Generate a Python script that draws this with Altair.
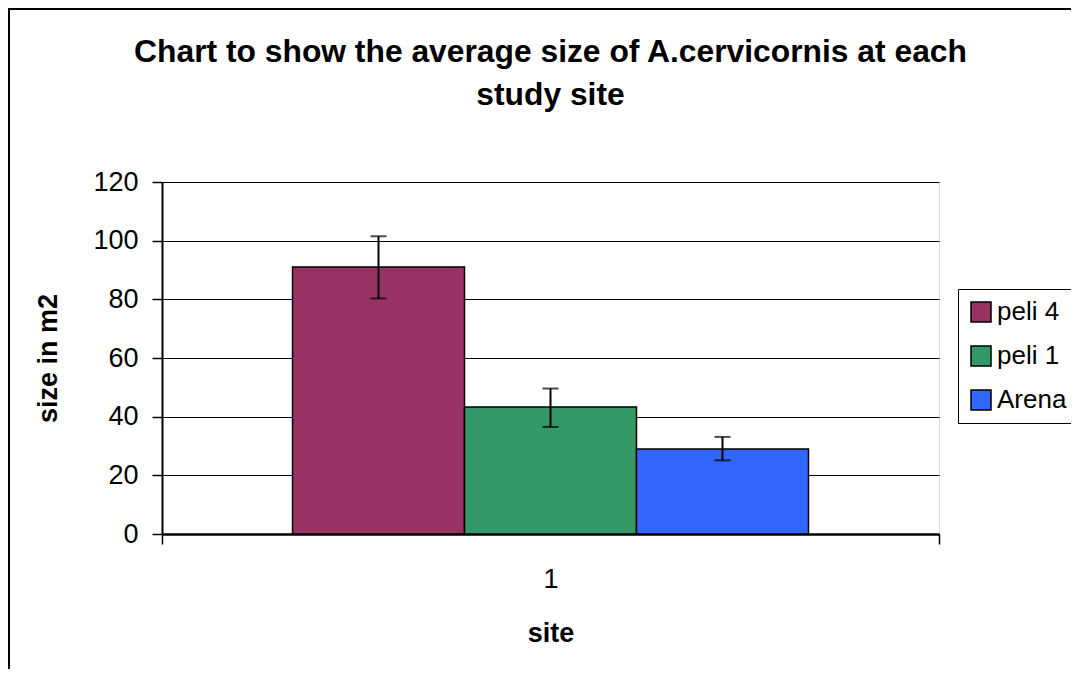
import altair as alt
import pandas as pd

sites = ["1"]
series = ["peli 4", "peli 1", "Arena"]
means = [91.0, 43.3, 29.0]
lower = [80.3, 36.5, 25.1]
upper = [101.5, 49.6, 33.1]
colors = ["#993366", "#339966", "#3366FF"]
y_ticks = [0, 20, 40, 60, 80, 100, 120]
title_text = "Chart to show the average size of A.cervicornis at each\nstudy site"

df = pd.DataFrame({
    "site": sites * len(series),
    "series": series,
    "mean": means,
    "lower": lower,
    "upper": upper,
})

FONT = "Liberation Sans"

x_enc = alt.X("site:N", title="site",
              scale=alt.Scale(paddingInner=0, paddingOuter=0),
              axis=alt.Axis(labelAngle=0, tickBand="extent", tickSize=10, tickColor="black",
                            tickWidth=1.5, domainColor="black", domainWidth=2.5,
                            labelFontSize=27, labelFont=FONT, labelColor="black", labelPadding=22,
                            titleFontSize=27, titleFont=FONT, titleFontWeight="bold", titleColor="black",
                            titleX=388.5, titleY=99, titleBaseline="middle", titleAlign="center",
                            grid=False))
xoff_enc = alt.XOffset("series:N", sort=series,
                       scale=alt.Scale(paddingInner=0, paddingOuter=0.759))
y_scale = alt.Scale(domain=[0, 120], nice=False)

bars = alt.Chart(df).mark_bar(stroke="black", strokeWidth=1.5).encode(
    x=x_enc,
    xOffset=xoff_enc,
    y=alt.Y("mean:Q", title="size in m2", scale=y_scale,
            axis=alt.Axis(values=y_ticks, tickSize=10, tickColor="black", tickWidth=1.5,
                          domainColor="black", domainWidth=2, gridColor="black", gridWidth=1.2,
                          labelFontSize=27, labelFont=FONT, labelColor="black", labelPadding=14,
                          titleFontSize=27, titleFont=FONT, titleFontWeight="bold", titleColor="black",
                          titleX=-114, titleY=176, titleBaseline="middle", titleAlign="center")),
    color=alt.Color("series:N", sort=series,
                    scale=alt.Scale(domain=series, range=colors),
                    legend=alt.Legend(title=None, orient="none", legendX=796, legendY=107,
                                      strokeColor="black", fillColor="white", padding=10,
                                      symbolType="square", symbolSize=400,
                                      symbolStrokeColor="black", symbolStrokeWidth=1.5,
                                      labelFontSize=26, labelFont=FONT, labelColor="black",
                                      labelOffset=3, rowPadding=18)),
)

err = alt.Chart(df).mark_rule(color="black", strokeWidth=2).encode(
    x=alt.X("site:N"), xOffset=xoff_enc,
    y=alt.Y("lower:Q", scale=y_scale), y2="upper:Q",
)
cap_lo = alt.Chart(df).mark_tick(color="black", thickness=2, size=16).encode(
    x=alt.X("site:N"), xOffset=xoff_enc, y=alt.Y("lower:Q", scale=y_scale),
)
cap_hi = alt.Chart(df).mark_tick(color="black", thickness=2, size=16).encode(
    x=alt.X("site:N"), xOffset=xoff_enc, y=alt.Y("upper:Q", scale=y_scale),
)

frame = alt.Chart(pd.DataFrame({"f": [0]})).mark_rect(
    fill=None, stroke="black", strokeWidth=2
).encode(x=alt.value(-153), y=alt.value(-173), x2=alt.value(1200), y2=alt.value(900))

title = alt.Chart(pd.DataFrame({"t": [title_text]})).mark_text(
    font=FONT, fontSize=31.8, fontWeight="bold", color="black", align="center",
    baseline="alphabetic", lineBreak="\n", lineHeight=43
).encode(x=alt.value(388.5), y=alt.value(-120), text="t:N")

chart = alt.layer(frame, bars, err, cap_lo, cap_hi, title).properties(
    width=777, height=352,
    autosize=alt.AutoSizeParams(type="none"),
    padding={"left": 154, "top": 174, "right": 132, "bottom": 135},
).configure_view(stroke="black", strokeWidth=2).configure(background="white")

chart.save("out.html", embed_options={"renderer": "svg", "actions": False})
